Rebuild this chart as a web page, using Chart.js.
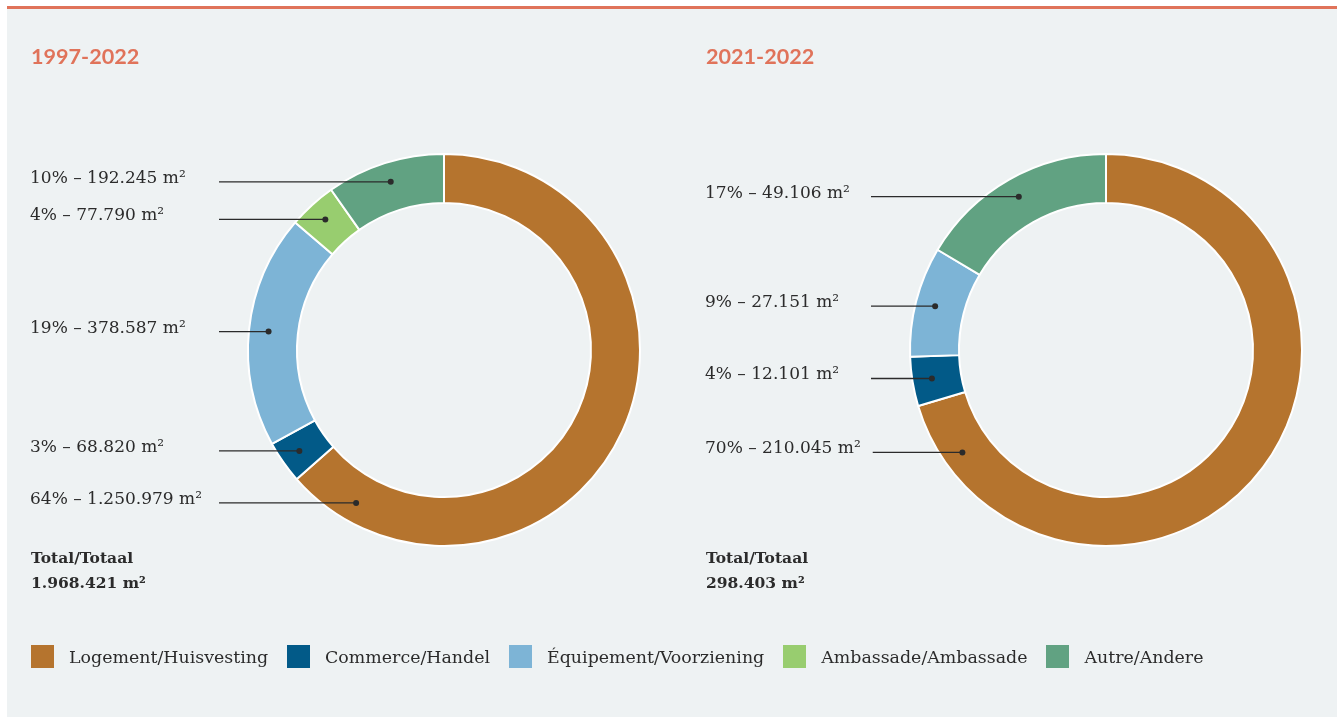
<!DOCTYPE html>
<html>
<head>
<meta charset="utf-8">
<script src="https://cdn.jsdelivr.net/npm/chart.js@4.4.1/dist/chart.umd.min.js"></script>
<style>
  body { margin: 0; width: 1337px; height: 717px; background: #fff; overflow: hidden; position: relative; font-family: "DejaVu Serif", serif; color: #2b2b2b; }
  #panel { position: absolute; left: 7px; top: 6px; right: 0; bottom: 0; background: #eef2f3; border-top: 3px solid #e0735a; }
  canvas { position: absolute; top: 0; }
  .title { position: absolute; top: 44px; font-family: Lato, sans-serif; font-weight: 700; font-size: 21.6px; line-height: 24px; color: #e0735a; }
  .total { position: absolute; top: 545px; font-weight: 700; font-size: 15.5px; line-height: 25px; }
  #legend { position: absolute; left: 31px; top: 645px; display: flex; align-items: center; font-size: 17.4px; }
  #legend .sw { width: 23px; height: 23px; margin-right: 15px; }
  #legend .txt { margin-right: 19px; }
</style>
</head>
<body>
<div id="panel"></div>
<canvas id="chartLeft" width="668" height="717" style="left:0"></canvas>
<canvas id="chartRight" width="669" height="717" style="left:668px"></canvas>
<div class="title" id="titleLeft" style="left:31px"></div>
<div class="title" id="titleRight" style="left:706px"></div>
<div class="total" id="totalLeft" style="left:31px"></div>
<div class="total" id="totalRight" style="left:706px"></div>
<div id="legend"></div>

<script>
// categories and values (m²)
const periods = ["1997-2022", "2021-2022"];
const categories = ["Logement/Huisvesting", "Commerce/Handel", "Équipement/Voorziening", "Ambassade/Ambassade", "Autre/Andere"];
const area1997 = [1250979, 68820, 378587, 77790, 192245];
const pct1997 = [64, 3, 19, 4, 10];
const area2021 = [210045, 12101, 27151, 0, 49106];
const pct2021 = [70, 4, 9, 0, 17];

const colors = ["#b5742e", "#025a88", "#7db4d6", "#98cd6f", "#61a282"];

// 1234567 -> "1.234.567"
function fmt(n) {
  return String(n).replace(/\B(?=(\d{3})+(?!\d))/g, ".");
}

// labels on the left with a line ending in a dot on the slice
const leaderLabels = {
  id: "leaderLabels",
  afterDatasetsDraw(chart, args, opts) {
    const ctx = chart.ctx;
    const meta = chart.getDatasetMeta(0);
    const values = chart.data.datasets[0].data;
    ctx.save();
    ctx.font = '17px "DejaVu Serif"';
    ctx.fillStyle = "#2b2b2b";
    ctx.strokeStyle = "#2b2b2b";
    ctx.lineWidth = 1.3;
    meta.data.forEach((arc, i) => {
      if (!values[i]) return;
      const p = arc.getProps(["x", "y", "startAngle", "endAngle", "innerRadius", "outerRadius"], true);
      let a = (p.startAngle + p.endAngle) / 2;
      // slice mostly on the right: put the dot near its end, on the left side
      if (Math.cos(a) > 0) a = p.endAngle - 0.33;
      const r = p.innerRadius + (p.outerRadius - p.innerRadius) * 0.6;
      const dx = p.x + r * Math.cos(a);
      const dy = p.y + r * Math.sin(a);
      const txt = opts.pct[i] + "% – " + fmt(values[i]) + " m²";
      ctx.fillText(txt, opts.labelX, dy + 1);
      const x0 = Math.max(opts.lineX, opts.labelX + ctx.measureText(txt).width + 12);
      ctx.beginPath();
      ctx.moveTo(x0, dy);
      ctx.lineTo(dx, dy);
      ctx.stroke();
      ctx.beginPath();
      ctx.arc(dx, dy, 3, 0, Math.PI * 2);
      ctx.fill();
    });
    ctx.restore();
  }
};

function makeChart(id, data, pct, padding, labelX, lineX) {
  return new Chart(document.getElementById(id), {
    type: "doughnut",
    data: {
      labels: categories,
      datasets: [{
        data,
        backgroundColor: colors,
        borderColor: "#ffffff",
        borderWidth: 2
      }]
    },
    options: {
      responsive: false,
      animation: false,
      devicePixelRatio: 1,
      cutout: "75%",
      layout: { padding },
      plugins: {
        legend: { display: false },
        tooltip: { enabled: false },
        leaderLabels: { pct, labelX, lineX }
      }
    },
    plugins: [leaderLabels]
  });
}

makeChart("chartLeft", area1997, pct1997, { left: 247, right: 27, top: 153, bottom: 170 }, 30, 219);
makeChart("chartRight", area2021, pct2021, { left: 241, right: 34, top: 153, bottom: 170 }, 37, 203);

document.getElementById("titleLeft").textContent = periods[0];
document.getElementById("titleRight").textContent = periods[1];

const sum = (arr) => arr.reduce((a, b) => a + b, 0);
document.getElementById("totalLeft").innerHTML = "Total/Totaal<br>" + fmt(sum(area1997)) + " m²";
document.getElementById("totalRight").innerHTML = "Total/Totaal<br>" + fmt(sum(area2021)) + " m²";

// legend shared by both charts
const legend = document.getElementById("legend");
categories.forEach((c, i) => {
  const sw = document.createElement("span");
  sw.className = "sw";
  sw.style.background = colors[i];
  const t = document.createElement("span");
  t.className = "txt";
  t.textContent = c;
  legend.appendChild(sw);
  legend.appendChild(t);
});
</script>
</body>
</html>
